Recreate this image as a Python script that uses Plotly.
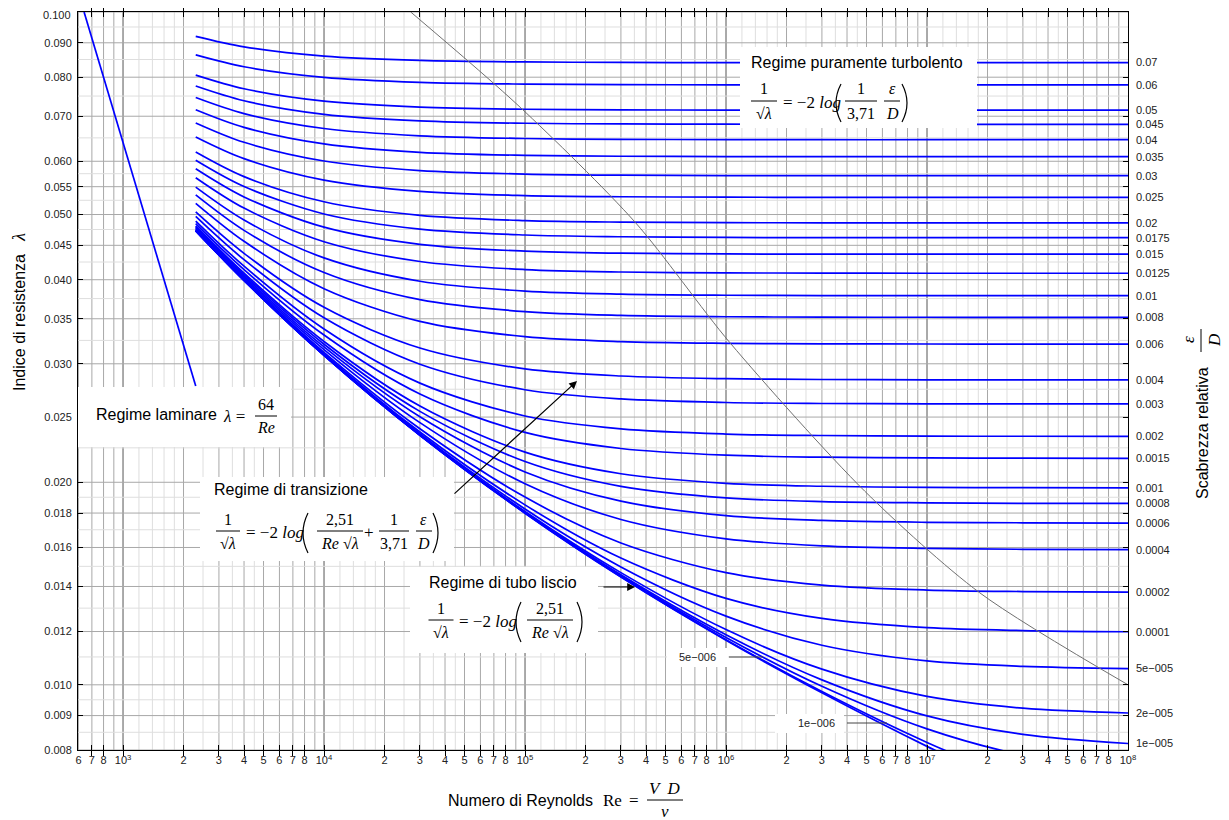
import math
import plotly.graph_objects as go

# ---------------- data ----------------
RE = [2300, 4000, 1e4, 3e4, 1e5, 3e5, 1e6, 3e6, 1e7, 3e7, 1e8]

R_0_07 = [0.09200, 0.08875, 0.08599, 0.08473, 0.08428, 0.08415, 0.08410, 0.08409, 0.08409, 0.08409, 0.08409]
R_0_06 = [0.08636, 0.08292, 0.07997, 0.07861, 0.07813, 0.07799, 0.07794, 0.07792, 0.07792, 0.07792, 0.07792]
R_0_05 = [0.08058, 0.07690, 0.07371, 0.07222, 0.07169, 0.07154, 0.07148, 0.07146, 0.07146, 0.07146, 0.07146]
R_0_045 = [0.07762, 0.07380, 0.07046, 0.06890, 0.06833, 0.06817, 0.06811, 0.06809, 0.06809, 0.06809, 0.06809]
R_0_04 = [0.07462, 0.07063, 0.06712, 0.06546, 0.06486, 0.06468, 0.06462, 0.06459, 0.06459, 0.06459, 0.06459]
R_0_035 = [0.07156, 0.06737, 0.06366, 0.06187, 0.06123, 0.06104, 0.06098, 0.06095, 0.06095, 0.06095, 0.06095]
R_0_03 = [0.06841, 0.06402, 0.06005, 0.05812, 0.05742, 0.05721, 0.05714, 0.05711, 0.05711, 0.05711, 0.05711]
R_0_025 = [0.06521, 0.06054, 0.05626, 0.05414, 0.05336, 0.05314, 0.05306, 0.05303, 0.05302, 0.05302, 0.05302]
R_0_02 = [0.06192, 0.05692, 0.05223, 0.04986, 0.04898, 0.04872, 0.04863, 0.04860, 0.04859, 0.04859, 0.04859]
R_0_0175 = [0.06021, 0.05503, 0.05010, 0.04757, 0.04662, 0.04634, 0.04623, 0.04620, 0.04619, 0.04619, 0.04619]
R_0_015 = [0.05849, 0.05311, 0.04788, 0.04515, 0.04411, 0.04380, 0.04369, 0.04366, 0.04365, 0.04365, 0.04365]
R_0_0125 = [0.05672, 0.05111, 0.04556, 0.04258, 0.04142, 0.04107, 0.04095, 0.04092, 0.04090, 0.04090, 0.04090]
R_0_01 = [0.05491, 0.04907, 0.04310, 0.03979, 0.03847, 0.03807, 0.03793, 0.03789, 0.03788, 0.03787, 0.03787]
R_0_008 = [0.05347, 0.04736, 0.04100, 0.03736, 0.03586, 0.03540, 0.03524, 0.03519, 0.03518, 0.03517, 0.03517]
R_0_006 = [0.05195, 0.04562, 0.03879, 0.03468, 0.03292, 0.03237, 0.03218, 0.03212, 0.03210, 0.03209, 0.03209]
R_0_004 = [0.05044, 0.04377, 0.03639, 0.03166, 0.02948, 0.02877, 0.02851, 0.02843, 0.02840, 0.02839, 0.02839]
R_0_003 = [0.04967, 0.04284, 0.03511, 0.02996, 0.02745, 0.02660, 0.02628, 0.02619, 0.02616, 0.02615, 0.02615]
R_0_002 = [0.04890, 0.04190, 0.03379, 0.02808, 0.02509, 0.02401, 0.02359, 0.02347, 0.02342, 0.02341, 0.02340]
R_0_0015 = [0.04848, 0.04141, 0.03310, 0.02705, 0.02372, 0.02245, 0.02194, 0.02179, 0.02174, 0.02172, 0.02171]
R_0_001 = [0.04808, 0.04092, 0.03238, 0.02596, 0.02217, 0.02059, 0.01993, 0.01973, 0.01965, 0.01963, 0.01962]
R_0_0008 = [0.04793, 0.04072, 0.03208, 0.02549, 0.02147, 0.01972, 0.01896, 0.01872, 0.01864, 0.01861, 0.01860]
R_0_0006 = [0.04776, 0.04051, 0.03179, 0.02503, 0.02072, 0.01875, 0.01784, 0.01755, 0.01744, 0.01741, 0.01739]
R_0_0004 = [0.04761, 0.04031, 0.03150, 0.02453, 0.01990, 0.01761, 0.01648, 0.01609, 0.01595, 0.01590, 0.01588]
R_0_0002 = [0.04744, 0.04011, 0.03120, 0.02402, 0.01901, 0.01625, 0.01468, 0.01407, 0.01383, 0.01376, 0.01373]
R_0_0001 = [0.04736, 0.04001, 0.03104, 0.02375, 0.01851, 0.01543, 0.01344, 0.01255, 0.01216, 0.01204, 0.01199]
R_5E_5 = [0.04733, 0.03996, 0.03096, 0.02362, 0.01825, 0.01497, 0.01265, 0.01145, 0.01085, 0.01065, 0.01057]
R_2E_5 = [0.04731, 0.03993, 0.03092, 0.02353, 0.01810, 0.01468, 0.01208, 0.01055, 0.00961, 0.00923, 0.00908]
R_1E_5 = [0.04730, 0.03992, 0.03090, 0.02351, 0.01804, 0.01457, 0.01187, 0.01017, 0.00899, 0.00844, 0.00818]
R_5E_6 = [0.04730, 0.03991, 0.03089, 0.02350, 0.01802, 0.01452, 0.01176, 0.00995, 0.00860, 0.00786, 0.00747]
R_1E_6 = [0.04729, 0.03990, 0.03088, 0.02349, 0.01800, 0.01447, 0.01167, 0.00977, 0.00821, 0.00718, 0.00643]
R_SMOOTH = [0.04729, 0.03990, 0.03087, 0.02349, 0.01799, 0.01446, 0.01165, 0.00973, 0.00810, 0.00695, 0.00594]

RIGHT_LABELS = ["0.07", "0.06", "0.05", "0.045", "0.04", "0.035", "0.03", "0.025", "0.02", "0.0175",
                "0.015", "0.0125", "0.01", "0.008", "0.006", "0.004", "0.003", "0.002", "0.0015", "0.001",
                "0.0008", "0.0006", "0.0004", "0.0002", "0.0001", "5e\u2212005", "2e\u2212005", "1e\u2212005"]
RIGHT_SERIES = [R_0_07, R_0_06, R_0_05, R_0_045, R_0_04, R_0_035, R_0_03, R_0_025, R_0_02, R_0_0175,
                R_0_015, R_0_0125, R_0_01, R_0_008, R_0_006, R_0_004, R_0_003, R_0_002, R_0_0015, R_0_001,
                R_0_0008, R_0_0006, R_0_0004, R_0_0002, R_0_0001, R_5E_5, R_2E_5, R_1E_5]
INNER_SERIES = [R_5E_6, R_1E_6, R_SMOOTH]

LAM_RE = [640, 2300]
LAM_F = [0.100, 0.0278]

BOUND_RE = [2.7e4, 9.45e4, 3.53e5, 1.05e6, 4.9e6, 1.83e7, 1e8]
BOUND_F = [0.100, 0.0722, 0.0487, 0.0322, 0.0194, 0.0137, 0.0100]

Y_TICKS = [0.008, 0.009, 0.010, 0.012, 0.014, 0.016, 0.018, 0.020, 0.025, 0.030, 0.035,
           0.040, 0.045, 0.050, 0.055, 0.060, 0.070, 0.080, 0.090, 0.100]
Y_TICK_TEXT = ["0.008", "0.009", "0.010", "0.012", "0.014", "0.016", "0.018", "0.020", "0.025", "0.030",
               "0.035", "0.040", "0.045", "0.050", "0.055", "0.060", "0.070", "0.080", "0.090", "0.100"]
Y_LIGHT = [0.0085, 0.0095, 0.011, 0.013, 0.015, 0.017, 0.019, 0.0225, 0.0275, 0.0325, 0.0375,
           0.0425, 0.0475, 0.0525, 0.0575, 0.065, 0.075, 0.085, 0.095]
DECADES = [3, 4, 5, 6, 7, 8]
X_LIGHT_DIGITS = [1.2, 1.4, 1.6, 1.8, 2.5, 3.5, 4.5]

# ---------------- layout geometry (window pixels; page body has an 8px margin) ----------------
OFF = 8
WIN_W, WIN_H = 1229, 820
X0, X1, Y0, Y1 = 78, 1128, 12, 750          # plot area in window pixels
W, H = WIN_W - OFF, WIN_H - OFF
ML, MR, MT, MB = X0 - OFF, WIN_W - X1, Y0 - OFF, WIN_H - Y1
PW, PH = X1 - X0, Y1 - Y0
XMIN = 597.0


def px(x):
    return (x - X0) / PW


def py(y):
    return (Y1 - y) / PH


fig = go.Figure()

BLUE = "#0000ff"
for s in RIGHT_SERIES + INNER_SERIES:
    fig.add_trace(go.Scatter(x=RE, y=s, mode="lines", hoverinfo="skip", showlegend=False,
                             line=dict(color=BLUE, width=1.7, shape="spline", smoothing=0.9)))

fig.add_trace(go.Scatter(x=LAM_RE, y=LAM_F, mode="lines", hoverinfo="skip", showlegend=False,
                         line=dict(color=BLUE, width=1.7)))
fig.add_trace(go.Scatter(x=BOUND_RE, y=BOUND_F, mode="lines", hoverinfo="skip", showlegend=False,
                         line=dict(color="#707070", width=1, shape="spline", smoothing=0.8)))

# invisible trace that carries the right-hand axis
right_vals = [s[-1] for s in RIGHT_SERIES]
fig.add_trace(go.Scatter(x=[RE[-1]] * len(right_vals), y=right_vals, yaxis="y2", mode="markers",
                         marker=dict(opacity=0), hoverinfo="skip", showlegend=False))

# ---------------- grid as shapes ----------------
shapes = []
for d in DECADES:
    for k in range(1, 10):
        v = k * 10 ** (d - 1)
        if v < XMIN or v > 1e8:
            continue
        col = "#555555" if k == 1 else "#a8a8a8"
        shapes.append(dict(type="line", xref="x", yref="paper", x0=v, x1=v, y0=0, y1=1,
                           line=dict(color=col, width=1), layer="below"))
for d in [2] + DECADES[:-1]:
    for k in X_LIGHT_DIGITS:
        v = k * 10 ** d
        if v < XMIN or v > 1e8:
            continue
        shapes.append(dict(type="line", xref="x", yref="paper", x0=v, x1=v, y0=0, y1=1,
                           line=dict(color="#dedede", width=1), layer="below"))
for v in Y_TICKS:
    shapes.append(dict(type="line", xref="paper", yref="y", x0=0, x1=1, y0=v, y1=v,
                       line=dict(color="#a8a8a8", width=1), layer="below"))
for v in Y_LIGHT:
    shapes.append(dict(type="line", xref="paper", yref="y", x0=0, x1=1, y0=v, y1=v,
                       line=dict(color="#dedede", width=1), layer="below"))


def box(x0, y0, x1, y1):
    shapes.append(dict(type="rect", xref="paper", yref="paper", x0=px(x0), x1=px(x1),
                       y0=py(y1), y1=py(y0), fillcolor="white", line=dict(width=0), layer="above"))


def seg(x0, y0, x1, y1, color="#000000", width=1):
    shapes.append(dict(type="line", xref="paper", yref="paper", x0=px(x0), x1=px(x1),
                       y0=py(y0), y1=py(y1), line=dict(color=color, width=width), layer="above"))


def paren(cx, cy, h, left=True):
    edge = cx + 3 if left else cx - 3
    ctrl = cx - 7 if left else cx + 7
    path = "M %.5f,%.5f Q %.5f,%.5f %.5f,%.5f" % (px(edge), py(cy - h / 2), px(ctrl), py(cy),
                                                  px(edge), py(cy + h / 2))
    shapes.append(dict(type="path", xref="paper", yref="paper", path=path,
                       line=dict(color="#000000", width=1.2), layer="above"))


annotations = []
SANS = "Liberation Sans, Arial, sans-serif"
SERIF = "Liberation Serif, Times New Roman, serif"


def txt(x, y, text, size=16, family=SANS, anchor="center", angle=0, color="#000000"):
    annotations.append(dict(x=px(x), y=py(y), xref="paper", yref="paper", text=text, showarrow=False,
                            xanchor=anchor, yanchor="middle", textangle=angle,
                            font=dict(size=size, family=family, color=color)))


def frac(cx, cy, num, den, w, size=16):
    txt(cx, cy - 12, num, size=size, family=SERIF)
    txt(cx, cy + 12, den, size=size, family=SERIF)
    seg(cx - w / 2, cy, cx + w / 2, cy, width=1)


SQL = "\u221a<i>\u03bb</i>"
LOG = "= \u22122 <i>log</i>"

# Box: regime puramente turbolento
box(740, 47, 977, 128)
txt(749, 63, "Regime puramente turbolento", anchor="left")
frac(764, 101, "1", SQL, 26)
txt(781, 102, LOG, size=17, family=SERIF, anchor="left")
paren(838, 103, 38, left=True)
frac(861, 101, "1", "3,71", 32)
frac(892, 101, "<i>\u03b5</i>", "<i>D</i>", 16)
paren(905, 103, 38, left=False)

# Box: regime laminare
box(78, 387, 291, 447)
txt(94, 415, "Regime laminare", anchor="left")
txt(234, 416, "<i>\u03bb</i> =", size=17, family=SERIF)
frac(266, 416, "64", "<i>Re</i>", 22)

# Box: regime di transizione
box(200, 477, 454, 561)
txt(212, 489, "Regime di transizione", anchor="left")
frac(228, 531, "1", SQL, 24)
txt(244, 532, LOG, size=17, family=SERIF, anchor="left")
paren(305, 533, 40, left=True)
frac(340, 531, "2,51", "<i>Re</i> " + SQL, 46)
txt(369, 532, "+", size=17, family=SERIF)
frac(394, 531, "1", "3,71", 30)
frac(424, 531, "<i>\u03b5</i>", "<i>D</i>", 16)
paren(436, 533, 40, left=False)

# Box: regime di tubo liscio
box(410, 567, 598, 653)
txt(427, 582, "Regime di tubo liscio", anchor="left")
frac(441, 620, "1", SQL, 25)
txt(457, 621, LOG, size=17, family=SERIF, anchor="left")
paren(518, 622, 40, left=True)
frac(550, 620, "2,51", "<i>Re</i> " + SQL, 46)
paren(580, 622, 40, left=False)

# arrows
annotations.append(dict(x=px(635), y=py(587), xref="paper", yref="paper", ax=602 - 635, ay=0,
                        text="", showarrow=True, arrowhead=2, arrowsize=1.3, arrowwidth=1.2,
                        arrowcolor="#000000"))
annotations.append(dict(x=px(577), y=py(381), xref="paper", yref="paper", ax=453 - 577, ay=495 - 381,
                        text="", showarrow=True, arrowhead=2, arrowsize=1.3, arrowwidth=1.2,
                        arrowcolor="#000000"))

# small labels for 5e-006 and 1e-006
box(667, 648, 728, 667)
txt(697, 657, "5e\u2212006", size=11, color="#222222")
seg(729, 657, 763, 657, color="#444444")
box(775, 714, 844, 733)
txt(816, 723, "1e\u2212006", size=11, color="#222222")
seg(847, 723, 887, 723, color="#444444")

# axis titles
txt(520, 800, "Numero di Reynolds", size=16)
txt(612, 800, "Re", size=17, family=SERIF)
txt(634, 800, "=", size=17, family=SERIF)
frac(665, 800, "<i>V  D</i>", "<i>\u03bd</i>", 36, size=17)

txt(19, 312, "Indice di resistenza   <span style='font-family:Liberation Serif;font-size:18px'><i>\u03bb</i></span>",
    size=16, angle=-90)
txt(1203, 433, "Scabrezza relativa", size=16, angle=-90)
txt(1188, 340, "<i>\u03b5</i>", size=17, family=SERIF, angle=-90)
txt(1214, 340, "<i>D</i>", size=17, family=SERIF, angle=-90)
shapes.append(dict(type="line", xref="paper", yref="paper", x0=px(1201), x1=px(1201),
                   y0=py(329), y1=py(352), line=dict(color="#000", width=1), layer="above"))

# the top tick label sits right at the page edge: draw it slightly lower so it is not clipped
y_ticktext_axis = list(Y_TICK_TEXT)
y_ticktext_axis[-1] = ""
txt(73, 15, Y_TICK_TEXT[-1], size=11, anchor="right", color="#222222")

# ---------------- axes ----------------
x_tickvals, x_ticktext = [], []
for d in [2] + DECADES:
    for k in range(1, 9):
        v = k * 10 ** d
        if v < XMIN or v > 1e8:
            continue
        x_tickvals.append(v)
        x_ticktext.append("10<sup>%d</sup>" % d if k == 1 else str(k))

TICKFONT = dict(size=11, family=SANS, color="#222222")
fig.update_layout(
    width=W, height=H, margin=dict(l=ML, r=MR, t=MT, b=MB, pad=0, autoexpand=False),
    paper_bgcolor="white", plot_bgcolor="white", showlegend=False,
    shapes=shapes, annotations=annotations,
    xaxis=dict(type="log", range=[math.log10(XMIN), 8], showgrid=False, zeroline=False, automargin=False,
               tickmode="array", tickvals=x_tickvals, ticktext=x_ticktext, tickfont=TICKFONT,
               ticks="inside", ticklen=5, tickcolor="#000", showline=True, linecolor="#000",
               linewidth=1, mirror="allticks", ticklabeloverflow="allow"),
    yaxis=dict(type="log", range=[math.log10(0.008), math.log10(0.1)], showgrid=False, zeroline=False,
               automargin=False, ticklabeloverflow="allow",
               tickmode="array", tickvals=Y_TICKS, ticktext=y_ticktext_axis, tickfont=TICKFONT,
               ticks="inside", ticklen=5, tickcolor="#000", showline=True, linecolor="#000",
               linewidth=1, mirror="allticks", ticklabelstandoff=3),
    yaxis2=dict(type="log", range=[math.log10(0.008), math.log10(0.1)], overlaying="y", side="right",
                showgrid=False, zeroline=False, automargin=False, tickmode="array", tickvals=right_vals,
                ticktext=RIGHT_LABELS, tickfont=TICKFONT, ticks="", showline=False,
                ticklabelstandoff=7, ticklabeloverflow="allow"),
)

fig.write_html("out.html", config={"displayModeBar": False})
